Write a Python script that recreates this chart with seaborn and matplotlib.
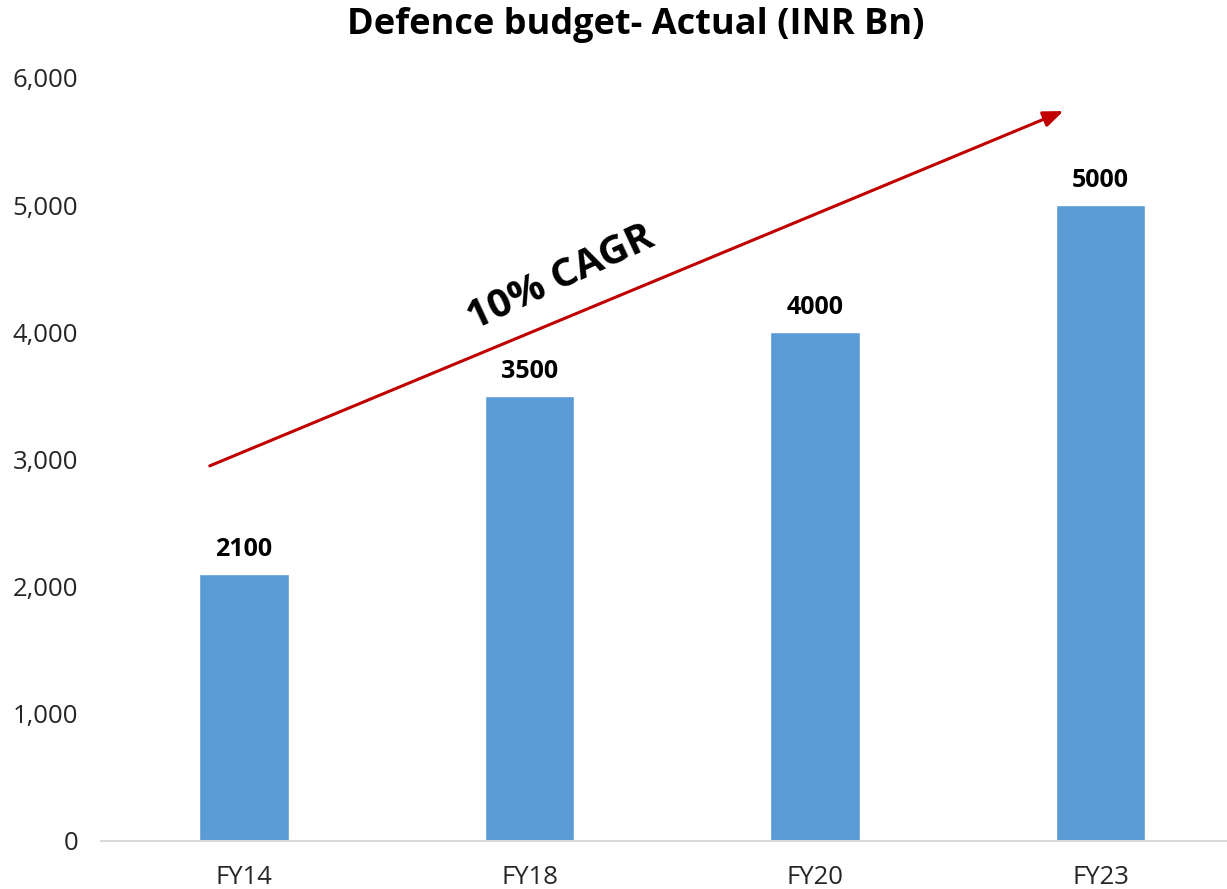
import matplotlib
matplotlib.use("Agg")
import matplotlib.pyplot as plt
import seaborn as sns
import pandas as pd
from matplotlib.ticker import FuncFormatter

categories = ["FY14", "FY18", "FY20", "FY23"]
values = [2100, 3500, 4000, 5000]
title = "Defence budget- Actual (INR Bn)"
cagr_label = "10% CAGR"
arrow_start = (-0.12, 2950)
arrow_end = (2.87, 5740)

sns.set_theme(style="white")
plt.rcParams['font.family'] = ['Open Sans', 'DejaVu Sans']

df = pd.DataFrame({"cat": categories, "val": values})

fig = plt.figure(figsize=(12.27, 8.89), dpi=100)
ax = fig.add_axes([101/1227, 48/889, 1 - 101/1227, (841-78)/889])

sns.barplot(data=df, x="cat", y="val", color="#5B9BD5", saturation=1, width=0.315, ax=ax)

ax.set_xlim(-0.501, 3.443)
ax.set_ylim(0, 6000)
ax.set_yticks([0, 1000, 2000, 3000, 4000, 5000, 6000])
ax.yaxis.set_major_formatter(FuncFormatter(lambda v, p: f"{int(v):,}"))
ax.set_xlabel("")
ax.set_ylabel("")
for s in ["top", "right", "left"]:
    ax.spines[s].set_visible(False)
ax.spines["bottom"].set_color("#d9d9d9")
ax.spines["bottom"].set_linewidth(1.5)
ax.tick_params(axis="both", length=0, labelsize=18.5, colors="#262626")
ax.tick_params(axis="y", pad=16.5)
ax.tick_params(axis="x", pad=17)
ax.grid(False)

for i, v in enumerate(values):
    ax.text(i, v + 95, str(v), ha="center", va="bottom", fontsize=18, fontweight="bold", color="black")

ax.annotate("", xy=arrow_end, xytext=arrow_start,
            arrowprops=dict(arrowstyle="-|>,head_length=1.0,head_width=0.4", color="#C00000", lw=2.2,
                            shrinkA=0, shrinkB=0))
ax.text(1.11, 4430, cagr_label, rotation=25, ha="center", va="center", fontsize=29,
        fontweight="bold", color="black", rotation_mode="anchor")

fig.text(0.518, 0.972, title, ha="center", va="center", fontsize=26, fontweight="bold", color="black")

fig.savefig("out.png", dpi=100)
